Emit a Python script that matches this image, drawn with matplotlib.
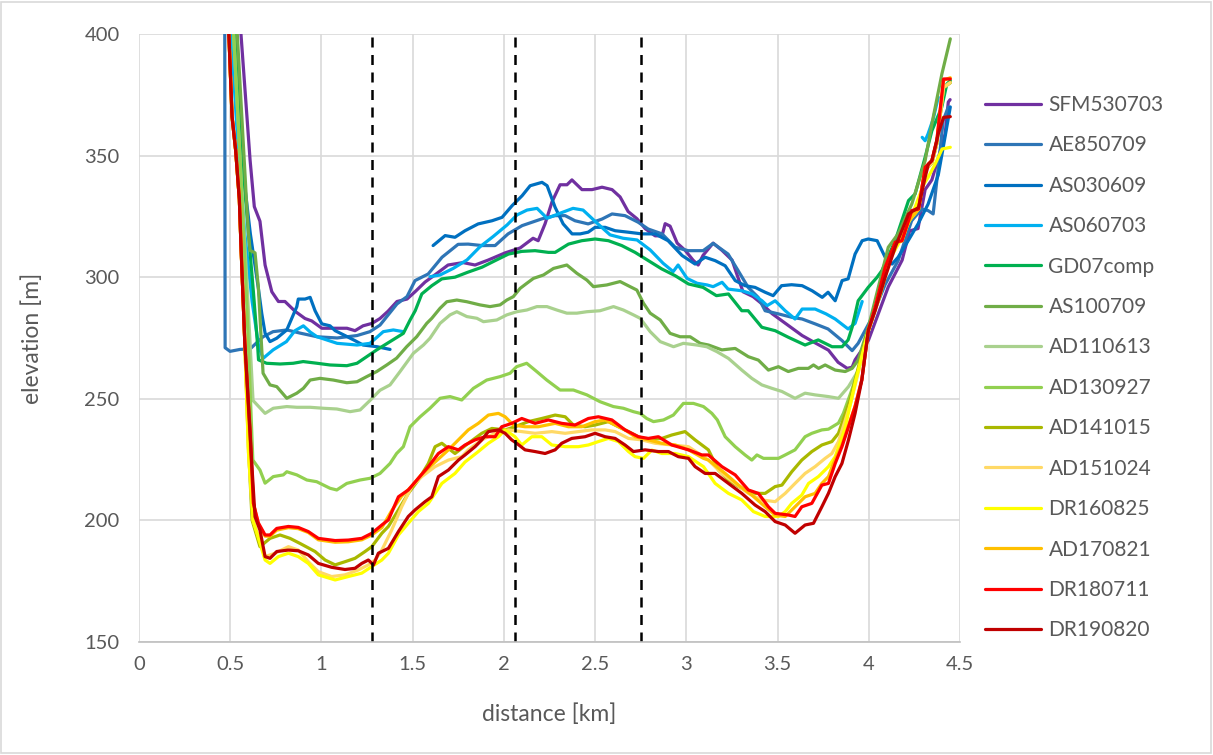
import numpy as np
import matplotlib.pyplot as plt
from matplotlib.patches import Rectangle

nan = np.nan

names = ['SFM530703', 'AE850709', 'AS030609', 'AS060703', 'GD07comp', 'AS100709', 'AD110613',
         'AD130927', 'AD141015', 'AD151024', 'DR160825', 'AD170821', 'DR180711', 'DR190820']
colors = ['#7030A0', '#2E75B6', '#0070C0', '#00B0F0', '#00B050', '#70AD47', '#A9D18E',
          '#92D050', '#A9B800', '#FFD966', '#FFFF00', '#FFC000', '#FF0000', '#C00000']

# shared steep left wall of the lower profiles
wall_x = [0.49, 0.51, 0.53, 0.55, 0.56, 0.58]
wall_y = [405, 366, 352, 332, 311, 273]

# shared rise on the right side of the lower profiles
rise_x = [3.998, 4.035, 4.090, 4.145, 4.182, 4.218, 4.273, 4.309, 4.346, 4.373, 4.410, 4.447]
rise_y = [278, 287, 303, 314, 315, 323, 328, 344, 347, 355, 378, 380]

sfm_x = [0.554, 0.609, 0.632, 0.663, 0.691, 0.728, 0.764, 0.800, 0.855, 0.910, 0.947, 1.002, 1.036,
         1.091, 1.140, 1.184, 1.228, 1.277, 1.321, 1.365, 1.414, 1.469, 1.513, 1.568, 1.623, 1.694,
         1.776, 1.842, 1.913, 2.007, 2.089, 2.160, 2.188, 2.226, 2.264, 2.308, 2.346, 2.373, 2.428,
         2.483, 2.538, 2.593, 2.637, 2.681, 2.730, 2.774, 2.829, 2.867, 2.884, 2.911, 2.950, 2.994,
         3.037, 3.065, 3.092, 3.147, 3.196, 3.251, 3.278, 3.311, 3.366, 3.415, 3.470, 3.525, 3.580,
         3.635, 3.706, 3.779, 3.832, 3.882, 3.909, 3.925, 3.998, 4.107, 4.183, 4.224, 4.270, 4.309,
         4.346, 4.381, 4.419, 4.436, 4.446]
sfm_y = [405, 348, 329, 323, 305, 294, 290, 290, 286, 283, 282, 279, 279, 279, 279, 278, 280, 281,
         283, 286, 290, 291, 294, 298, 301, 305, 306, 305, 307, 310, 312, 316, 315, 322, 331, 338,
         338, 340, 336, 336, 337, 336, 333, 327, 324, 320, 317, 317, 322, 321, 314, 311, 307, 305,
         309, 314, 311, 307, 301, 294, 292, 289, 285, 282, 279, 276, 273, 270, 265, 262.5, 263, 266,
         274, 296, 307, 319, 320, 336, 340, 349, 359, 372, 373]

ae_x = [0.470, 0.472, 0.499, 0.554, 0.609, 0.680, 0.735, 0.811, 0.883, 0.976, 1.086, 1.195, 1.266,
        1.321, 1.414, 1.469, 1.513, 1.585, 1.661, 1.749, 1.804, 1.880, 1.952, 2.023, 2.100, 2.209,
        2.281, 2.336, 2.390, 2.462, 2.538, 2.593, 2.664, 2.736, 2.791, 2.867, 2.939, 3.010, 3.092,
        3.147, 3.229, 3.284, 3.339, 3.394, 3.432, 3.505, 3.579, 3.635, 3.706, 3.777, 3.854, 3.909,
        3.942, 4.008, 4.090, 4.161, 4.235, 4.290, 4.325, 4.353, 4.381, 4.408, 4.436]
ae_y = [405, 271, 269.5, 270.3, 270.5, 275.5, 277.6, 278.3, 277, 275.5, 275, 276, 277.6, 280.3, 289,
        292, 298.6, 301.3, 308.2, 313.5, 313.6, 313, 313, 317.8, 321.2, 324, 325.3, 325.3, 323.2,
        321.9, 323.9, 326, 325.3, 322.6, 319.8, 317.8, 312.3, 310.9, 310.9, 313.9, 309.5, 302.7,
        295.8, 291.7, 286.2, 284.9, 283.5, 282.8, 280.8, 278.7, 273.9, 269.8, 272.8, 282, 297,
        306.8, 323.2, 328, 327.4, 326, 345, 364.4, 370]

as03_x = [0.515, 0.560, 0.610, 0.655, 0.673, 0.691, 0.718, 0.755, 0.810, 0.865, 0.873, 0.910, 0.938,
          0.965, 1.002, 1.047, 1.075, 1.129, 1.184, 1.228, 1.305, 1.376, 1.40,
          1.612, 1.678, 1.732, 1.787, 1.859, 1.935, 1.990, 2.045, 2.100, 2.144, 2.209, 2.237, 2.281,
          2.325, 2.374, 2.418, 2.462, 2.500, 2.555, 2.610, 2.681, 2.757, 2.829, 2.900, 2.977, 3.048,
          3.103, 3.158, 3.213, 3.268, 3.322, 3.377, 3.432, 3.476, 3.522, 3.577, 3.635, 3.690, 3.745,
          3.777, 3.816, 3.854, 3.887, 3.925, 3.964, 3.997, 4.046, 4.090, 4.128, 4.161, 4.216, 4.271,
          4.325, 4.381, 4.419, 4.447]
as03_y = [405, 350, 318, 295, 285, 277, 273.5, 274.9, 278.3, 287.9, 291, 291, 291.7, 286.2, 280.8,
          280, 278, 276, 273.9, 272.1, 271.4, 270.3, nan,
          313, 317.1, 316.4, 319.1, 321.9, 323.2, 324.6, 329.4, 333.5, 337.6, 339, 337.6, 328.7,
          321.9, 317.8, 317.8, 318.5, 320.5, 320.5, 319.1, 318.5, 317.8, 317.8, 315, 308.9, 305.4,
          308.2, 306.8, 304.7, 298.6, 296.5, 295.8, 293.8, 292.4, 296.5, 296.9, 296.5, 294.4, 291.7,
          293.8, 290.3, 298.6, 299.3, 309.5, 315, 315.7, 315, 308.2, 305.4, 308.2, 315, 322, 330,
          342, 358, 370]

as06_x = [0.500, 0.550, 0.580, 0.620, 0.655, 0.680, 0.735, 0.808, 0.855, 0.901, 0.939, 0.976, 1.086,
          1.195, 1.266, 1.339, 1.394, 1.449, 1.50,
          1.595, 1.650, 1.722, 1.798, 1.869, 1.941, 2.018, 2.072, 2.127, 2.182, 2.237, 2.308, 2.379,
          2.434, 2.511, 2.582, 2.654, 2.730, 2.802, 2.873, 2.928, 2.955, 3.004, 3.059, 3.114, 3.147,
          3.196, 3.229, 3.306, 3.361, 3.415, 3.443, 3.487, 3.542, 3.596, 3.635, 3.706, 3.766, 3.816,
          3.887, 3.925, 3.964, 4.10,
          4.293, 4.309, 4.325, 4.353, 4.381]
as06_y = [405, 345, 318, 290, 272, 266.6, 270.1, 273.5, 278, 280, 277.4, 275.5, 272.8, 272.1, 272.8,
          277.6, 278.3, 277.6, nan,
          300.2, 300.9, 303.6, 307.1, 312.5, 316.7, 321.5, 325.6, 327.6, 328.3, 324.2, 326.3, 328.3,
          327.6, 322.2, 317.4, 316, 315.3, 311.2, 305.7, 302.3, 305, 299.5, 297.5, 296.8, 296.1,
          297.9, 295.1, 294.4, 293.1, 290.3, 288.3, 290.3, 286.2, 282.8, 286.9, 286.9, 284.9, 282.8,
          278.7, 281, 290, nan,
          357.5, 356.1, 358.9, 365, 374]

gd_x = [0.525, 0.570, 0.600, 0.627, 0.650, 0.655, 0.699, 0.773, 0.845, 0.900, 0.976, 1.047, 1.139,
        1.195, 1.248, 1.303, 1.376, 1.449, 1.486, 1.514, 1.550, 1.605, 1.660, 1.732, 1.801, 1.880,
        1.952, 2.025, 2.098, 2.171, 2.244, 2.281, 2.354, 2.427, 2.500, 2.573, 2.646, 2.719, 2.792,
        2.865, 2.939, 3.012, 3.092, 3.165, 3.231, 3.304, 3.339, 3.414, 3.487, 3.559, 3.651, 3.723,
        3.799, 3.854, 3.887, 3.909, 3.942, 3.997, 4.046, 4.072, 4.145, 4.218, 4.254, 4.309, 4.346,
        4.400, 4.428, 4.447]
gd_y = [405, 345, 318, 294, 272, 266, 264.6, 264.3, 264.6, 265.3, 264.6, 263.9, 263.6, 264.6, 267.3,
        270.1, 273.5, 276.9, 282.4, 286.2, 293.1, 296.5, 299.3, 300, 302, 304.1, 306.8, 309.5,
        310.6, 310.9, 310.2, 310.2, 313.6, 315, 315.7, 315, 313, 310.2, 306.8, 303.4, 300.6, 297.2,
        295.8, 292.4, 293.1, 286.2, 286.2, 279.4, 278, 275.3, 272.1, 274.2, 271.4, 271.4, 274.2,
        279.4, 290.3, 295.8, 300, 302.7, 315, 331.5, 334.2, 349.3, 360.2, 369.9, 379.4, 380.8]

as10_x = [0.535, 0.590, 0.600, 0.609, 0.636, 0.654, 0.680, 0.718, 0.755, 0.810, 0.865, 0.901, 0.938,
          0.992, 1.065, 1.139, 1.195, 1.248, 1.303, 1.358, 1.412, 1.467, 1.522, 1.577, 1.605, 1.650,
          1.687, 1.742, 1.797, 1.869, 1.924, 1.979, 2.016, 2.052, 2.089, 2.126, 2.162, 2.217, 2.272,
          2.345, 2.400, 2.455, 2.491, 2.564, 2.637, 2.692, 2.729, 2.765, 2.802, 2.857, 2.911, 2.966,
          3.021, 3.076, 3.122, 3.195, 3.268, 3.340, 3.395, 3.450, 3.505, 3.559, 3.614, 3.669, 3.697,
          3.725, 3.761, 3.816, 3.871, 3.909, 3.942, 4.000, 4.107, 4.161, 4.236, 4.309, 4.346, 4.401,
          4.447]
as10_y = [405, 330, 318, 311, 310, 296, 260.5, 255.7, 255, 250.2, 252.3, 254.3, 257.7, 258.4, 257.7,
          256.6, 257, 259.1, 261.2, 263.9, 266.7, 271.4, 275.5, 281, 283.1, 287.2, 289.9, 290.6,
          289.9, 288.6, 287.9, 288.6, 290.6, 292, 295.4, 297.5, 299.5, 300.9, 303.6, 305, 301.6,
          298.8, 296.1, 296.8, 298.2, 296.1, 294.7, 289.3, 285.2, 282.4, 276.9, 275.5, 275.5, 272.8,
          272.1, 270.1, 270.7, 267.3, 265.9, 261.8, 263.2, 261.2, 262.5, 262.5, 263.9, 262.5, 263.9,
          261.8, 261.2, 262.5, 265.9, 280, 312.3, 317.8, 330.1, 347.9, 363, 383.6, 398]

ad11_x = [0.515, 0.560, 0.590, 0.625, 0.691, 0.736, 0.810, 0.865, 0.938, 1.011, 1.084, 1.157, 1.212,
          1.266, 1.321, 1.376, 1.431, 1.504, 1.559, 1.595, 1.650, 1.705, 1.742, 1.797, 1.852, 1.888,
          1.961, 2.016, 2.071, 2.126, 2.181, 2.236, 2.290, 2.345, 2.400, 2.455, 2.527, 2.601, 2.655,
          2.710, 2.747, 2.802, 2.857, 2.930, 2.984, 3.058, 3.112, 3.167, 3.231, 3.304, 3.359, 3.414,
          3.469, 3.524, 3.596, 3.651, 3.706, 3.779, 3.834, 3.889, 3.944] + rise_x
ad11_y = [405, 340, 300, 249.3, 244, 246.1, 246.8, 246.5, 246.5, 246.1, 245.8, 244.7, 245.4, 249.3,
          253.5, 255.7, 261.2, 268.7, 272.1, 274.9, 281, 284.5, 285.8, 283.8, 283.1, 281.7, 282.4,
          284.5, 285.8, 286.5, 287.9, 287.9, 286.5, 285.2, 285.2, 285.8, 286.2, 287.9, 286.5, 284.5,
          283.1, 277.6, 273.5, 271.4, 272.8, 272.1, 271.4, 269.4, 266.6, 261.8, 258.4, 255.7, 254.3,
          253, 250.2, 252.3, 251.6, 250.9, 250.2, 255, 261.8] + rise_y

ad13_x = [0.515, 0.560, 0.590, 0.624, 0.663, 0.691, 0.736, 0.791, 0.810, 0.865, 0.920, 0.974, 1.047,
          1.084, 1.139, 1.212, 1.266, 1.321, 1.376, 1.412, 1.449, 1.486, 1.541, 1.595, 1.650, 1.705,
          1.769, 1.833, 1.906, 1.979, 2.034, 2.070, 2.125, 2.180, 2.235, 2.308, 2.381, 2.455, 2.527,
          2.600, 2.655, 2.710, 2.747, 2.783, 2.820, 2.875, 2.929, 2.984, 3.039, 3.094, 3.140, 3.170,
          3.213, 3.268, 3.322, 3.359, 3.387, 3.423, 3.505, 3.542, 3.596, 3.651, 3.688, 3.743, 3.779,
          3.834, 3.861, 3.907, 3.960] + rise_x
ad13_y = [405, 340, 290, 224.8, 220.7, 215.3, 218, 218.7, 220, 218.7, 216.6, 215.9, 213.2, 212.5,
          215.2, 216.6, 217.3, 219.3, 223.4, 227.5, 230.3, 238.5, 242.6, 246.1, 250.2, 250.9, 249.5,
          254.3, 257.7, 259.1, 260.5, 263.2, 264.6, 261.2, 257.7, 253.6, 253.6, 251.6, 248.8, 246.8,
          246.1, 244.7, 244, 241.9, 240.6, 241.3, 243.3, 248.1, 248.1, 246.8, 244, 241.3, 234.4,
          230.3, 226.9, 224.8, 226.9, 225.5, 225.5, 226.9, 229, 234.4, 235.8, 237.2, 237.5, 240, 244,
          253.6, 266] + rise_y

ad14_x = wall_x + [0.600, 0.620, 0.663, 0.718, 0.773, 0.828, 0.883, 0.965, 1.020, 1.075, 1.129,
                   1.184, 1.239, 1.276, 1.331, 1.367, 1.422, 1.476, 1.531, 1.586, 1.623, 1.660,
                   1.696, 1.732, 1.805, 1.879, 1.934, 2.007, 2.061, 2.134, 2.208, 2.281, 2.336,
                   2.381, 2.445, 2.500, 2.573, 2.628, 2.683, 2.737, 2.792, 2.866, 2.920, 2.993,
                   3.048, 3.121, 3.176, 3.231, 3.286, 3.359, 3.432, 3.487, 3.524, 3.578, 3.633,
                   3.688, 3.743, 3.798, 3.834, 3.900, 3.960] + rise_x
ad14_y = wall_y + [230, 200, 189.2, 192.6, 194, 192.6, 190.5, 187.2, 183.7, 181.7, 183, 184.4,
                   187.2, 189.2, 194.7, 197.5, 204.3, 211.1, 216.6, 223.4, 230.3, 231.7, 229.6,
                   227.5, 231.7, 235.8, 237.8, 237.2, 238.5, 240.6, 241.9, 243.3, 242.6, 239.2,
                   238.5, 239.2, 240.6, 238.5, 236.5, 234.4, 233.1, 233.7, 235.1, 236.5, 233.1,
                   229, 220.7, 216.6, 213.9, 211.1, 211.1, 213.9, 214.5, 220, 224.8, 228.3, 231,
                   232.4, 235.8, 250, 268] + rise_y

ad15_x = wall_x + [0.600, 0.625, 0.691, 0.746, 0.819, 0.873, 0.928, 0.983, 1.056, 1.129, 1.202,
                   1.257, 1.294, 1.331, 1.385, 1.440, 1.495, 1.550, 1.623, 1.696, 1.769, 1.805,
                   1.879, 1.952, 2.025, 2.098, 2.171, 2.263, 2.336, 2.408, 2.482, 2.555, 2.610,
                   2.683, 2.756, 2.829, 2.920, 3.012, 3.094, 3.121, 3.195, 3.268, 3.340, 3.414,
                   3.487, 3.542, 3.596, 3.651, 3.706, 3.761, 3.798, 3.834, 3.900, 3.960] + rise_x
ad15_y = wall_y + [228, 200, 185.1, 186.5, 189.2, 187.8, 183, 178.9, 176.9, 177.6, 179.6, 181.7,
                   183.7, 187.8, 196, 205.6, 213.9, 218, 222.1, 224.8, 226.2, 229, 233.1, 235.8,
                   237.2, 236.5, 235.8, 236.5, 235.8, 236.5, 237.2, 237.2, 236.5, 233.7, 233.1,
                   231.7, 231, 230.3, 226.2, 224.8, 219.3, 215.2, 211.1, 208.4, 207.7, 211.1,
                   215.2, 219.3, 222.1, 225.5, 227.5, 232.4, 248, 266] + rise_y

dr16_x = wall_x + [0.600, 0.625, 0.691, 0.718, 0.764, 0.819, 0.873, 0.928, 0.983, 1.075, 1.147,
                   1.221, 1.276, 1.331, 1.367, 1.422, 1.476, 1.531, 1.586, 1.660, 1.732, 1.787,
                   1.860, 1.915, 1.970, 2.007, 2.061, 2.098, 2.153, 2.208, 2.263, 2.336, 2.408,
                   2.463, 2.518, 2.573, 2.628, 2.683, 2.719, 2.765, 2.811, 2.866, 2.939, 3.012,
                   3.094, 3.158, 3.231, 3.304, 3.368, 3.432, 3.505, 3.542, 3.578, 3.633, 3.670,
                   3.724, 3.779, 3.816, 3.870, 3.930, 3.998, 4.060, 4.120, 4.180, 4.240, 4.300,
                   4.325, 4.364, 4.402, 4.447]
dr16_y = wall_y + [228, 200, 183.7, 182.3, 185.1, 186.5, 185.1, 182.3, 177.6, 175.5, 176.9,
                   178.3, 181, 183.7, 186.5, 194, 198.8, 203.6, 207, 215.2, 219.3, 224, 228.3,
                   231.7, 234.4, 237.2, 234.4, 231, 234.4, 234.4, 231, 230.3, 230.3, 231, 232.4,
                   233.7, 232.4, 228.3, 226.2, 225.5, 228.9, 227.5, 227.5, 226.2, 222.1, 215.2,
                   211.1, 208.4, 203.6, 201.6, 201.6, 203.6, 207, 210.4, 215.2, 218, 222.1, 226.2,
                   238, 258, 278, 292, 308, 316, 326, 338, 341, 346.5, 352.7, 353.4]

ad17_x = wall_x + [0.605, 0.627, 0.654, 0.691, 0.718, 0.755, 0.819, 0.873, 0.928, 0.983, 1.075,
                   1.147, 1.221, 1.276, 1.331, 1.385, 1.440, 1.495, 1.550, 1.623, 1.696, 1.732,
                   1.805, 1.860, 1.915, 1.970, 2.007, 2.052, 2.116, 2.189, 2.281, 2.354, 2.427,
                   2.500, 2.555, 2.610, 2.664, 2.719, 2.792, 2.866, 2.939, 3.012, 3.094, 3.121,
                   3.213, 3.286, 3.359, 3.432, 3.487, 3.542, 3.596, 3.651, 3.706, 3.743, 3.779,
                   3.806, 3.853, 3.889, 3.925, 3.962] + rise_x
ad17_y = wall_y + [237, 207, 198.5, 193.5, 193.5, 196, 197, 196.6, 195, 192, 191, 191.2, 192,
                   194, 197, 204, 210, 214, 219, 224, 229, 231.7, 237.2, 239.9, 243.3, 244, 242.6,
                   239.2, 238.5, 238.5, 239.9, 238.5, 238.5, 240.6, 241.3, 239.2, 237.2, 234.4,
                   233.1, 231.7, 231, 229, 225.5, 224.8, 219.3, 214.5, 210.4, 205.6, 202.2, 201.6,
                   205.6, 209.7, 211.1, 215.2, 218, 223.4, 231, 239, 247, 258] + [
                   278, 287, 303, 314, 315, 323, 328, 345, 348, 356, 381, 382]

dr18_x = wall_x + [0.609, 0.627, 0.654, 0.691, 0.718, 0.755, 0.819, 0.873, 0.928, 0.983, 1.075,
                   1.147, 1.221, 1.276, 1.331, 1.367, 1.422, 1.476, 1.531, 1.586, 1.641, 1.696,
                   1.751, 1.787, 1.842, 1.897, 1.952, 1.988, 2.043, 2.098, 2.171, 2.244, 2.317,
                   2.390, 2.463, 2.518, 2.592, 2.664, 2.737, 2.792, 2.847, 2.920, 3.012, 3.085,
                   3.121, 3.195, 3.268, 3.340, 3.395, 3.450, 3.487, 3.560, 3.596, 3.633, 3.688,
                   3.743, 3.779, 3.816, 3.853, 3.889, 3.925, 3.962, 3.998, 4.035, 4.090, 4.145,
                   4.182, 4.218, 4.236, 4.273, 4.309, 4.346, 4.373, 4.410, 4.447]
dr18_y = wall_y + [237, 207, 199, 194, 194, 196.7, 197.5, 197.1, 195.4, 192.6, 191.7, 191.9,
                   192.6, 194.7, 198.1, 200.2, 209.7, 212.5, 217.3, 222.1, 227.5, 230.3, 229, 231,
                   233.1, 234.4, 234.4, 238.5, 239.9, 241.9, 239.9, 241.3, 239.9, 239.2, 241.9,
                   242.6, 241.3, 237.2, 234.4, 233.7, 234.4, 231, 229, 226.9, 226.9, 222.1, 218.7,
                   212.5, 211.1, 205.6, 202.9, 202.2, 201.6, 205.6, 207, 214.5, 215.2, 223.4,
                   230.3, 238.5, 246.8, 257.7, 278.3, 287.6, 304.1, 314.4, 315, 323.2, 327.4, 328,
                   345.2, 347.9, 356.1, 381.5, 381.5]

dr19_x = wall_x + [0.618, 0.636, 0.663, 0.691, 0.718, 0.755, 0.819, 0.873, 0.928, 0.983, 1.056,
                   1.129, 1.184, 1.221, 1.257, 1.285, 1.312, 1.367, 1.422, 1.476, 1.513, 1.568,
                   1.605, 1.641, 1.696, 1.751, 1.787, 1.842, 1.879, 1.915, 1.970, 2.007, 2.043,
                   2.070, 2.116, 2.171, 2.226, 2.281, 2.317, 2.372, 2.445, 2.500, 2.555, 2.610,
                   2.664, 2.710, 2.774, 2.847, 2.902, 2.956, 3.012, 3.048, 3.103, 3.158, 3.231,
                   3.304, 3.377, 3.432, 3.487, 3.542, 3.596, 3.651, 3.697, 3.743, 3.779, 3.816,
                   3.853, 3.889, 3.925, 3.962, 3.998, 4.035, 4.090, 4.145, 4.218, 4.273, 4.309,
                   4.327, 4.346, 4.381, 4.410, 4.447]
dr19_y = wall_y + [223.4, 201.5, 196, 185.1, 184.4, 187.2, 187.8, 187.5, 185.8, 182.3, 180.7,
                   179.8, 180.3, 182.3, 183.7, 181.7, 186.5, 188.5, 195.4, 201.6, 204.3, 207.7,
                   209.7, 218, 220.7, 224.8, 226.9, 230.3, 233.1, 236.5, 237.2, 235.8, 233.1,
                   231.7, 229, 228.3, 227.5, 229, 231.7, 233.7, 234.4, 235.8, 234.4, 233.7, 231,
                   228.3, 229, 228.3, 228.3, 226.2, 225.5, 222.1, 219.3, 219.3, 215.2, 211.1,
                   206.3, 203.6, 199.5, 198.1, 194.7, 198.1, 198.8, 205.6, 211.1, 218, 223.4,
                   233.1, 244, 257.7, 278.3, 286.2, 300, 312.3, 326, 328.7, 341.1, 346.5, 347.9,
                   358.9, 365.7, 366]

series_x = [sfm_x, ae_x, as03_x, as06_x, gd_x, as10_x, ad11_x, ad13_x, ad14_x, ad15_x, dr16_x,
            ad17_x, dr18_x, dr19_x]
series_y = [sfm_y, ae_y, as03_y, as06_y, gd_y, as10_y, ad11_y, ad13_y, ad14_y, ad15_y, dr16_y,
            ad17_y, dr18_y, dr19_y]

section_x = [1.277, 2.061, 2.752]

plt.rcParams['font.family'] = ['Lato', 'DejaVu Sans']
text_col = '#595959'

fig = plt.figure(figsize=(12.13, 7.55), dpi=100)
ax = fig.add_axes([0.1146, 0.1497, 0.6768, 0.8053])

for name, col, xs, ys in zip(names, colors, series_x, series_y):
    ax.plot(np.array(xs, dtype=float), np.array(ys, dtype=float), color=col, lw=2.3,
            label=name, solid_joinstyle='round', solid_capstyle='round')

for sx in section_x:
    ax.axvline(sx, color='black', lw=1.8, ls=(0, (4, 3)))

ax.set_xlim(0, 4.5)
ax.set_ylim(150, 400)
ax.set_xticks(np.arange(0, 4.51, 0.5))
ax.set_xticklabels(['0', '0.5', '1', '1.5', '2', '2.5', '3', '3.5', '4', '4.5'])
ax.set_yticks(np.arange(150, 401, 50))
ax.grid(True, color='#D9D9D9', lw=1.2)
ax.set_axisbelow(True)
for s in ['top', 'right', 'left']:
    ax.spines[s].set_visible(False)
ax.spines['bottom'].set_color('#BFBFBF')
ax.spines['bottom'].set_linewidth(1.2)
ax.tick_params(axis='y', length=0, labelsize=14.5, labelcolor=text_col, pad=14)
ax.tick_params(axis='x', length=0, labelsize=14.5, labelcolor=text_col, pad=10)
ax.set_xlabel('distance [km]', fontsize=16.5, color=text_col, labelpad=22)
ax.set_ylabel('elevation [m]', fontsize=16.5, color=text_col, labelpad=30)

fig.legend(loc='center left', bbox_to_anchor=(0.812, 0.513), frameon=False, fontsize=15,
           handlelength=2.7, handletextpad=0.35, labelspacing=0.98, labelcolor=text_col,
           borderaxespad=0, borderpad=0)

fig.patches.append(Rectangle((0.001, 0.003), 0.997, 0.995, transform=fig.transFigure,
                             fill=False, edgecolor='#D9D9D9', lw=1.2))

fig.savefig('out.png', dpi=100)
